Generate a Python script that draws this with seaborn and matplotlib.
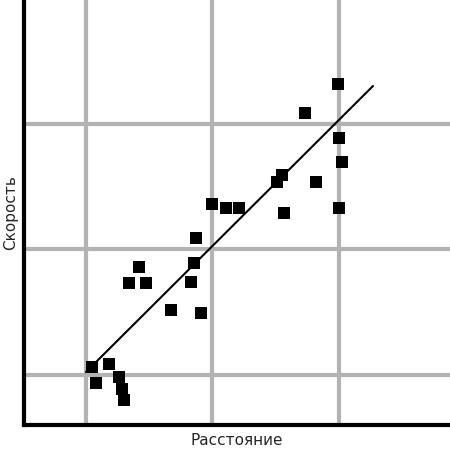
import matplotlib
matplotlib.use("Agg")
import matplotlib.pyplot as plt
import seaborn as sns
import pandas as pd

# values (arbitrary units)
dist = [92, 96, 109, 119, 122, 124, 129, 139, 146, 171, 191, 194, 196, 201,
        212, 226, 239, 277, 282, 284, 305, 316, 338, 339, 342, 339]
speed = [58, 42, 61, 48, 36, 25, 142, 158, 142, 115, 143, 162, 187, 112,
         221, 217, 217, 243, 250, 212, 312, 243, 341, 287, 263, 217]
trend_x = [86, 373]
trend_y = [53, 339]
grid_x = [86, 212, 339]
grid_y = [50, 176, 301]

df = pd.DataFrame({"dist": dist, "speed": speed})

sns.set_style("white")
fig = plt.figure(figsize=(4.5, 4.5), dpi=100)
ax = fig.add_axes([24 / 450, 25 / 450, 426 / 450, 425 / 450])

for g in grid_x:
    ax.axvline(g, color="#b3b3b3", lw=3, zorder=0)
for g in grid_y:
    ax.axhline(g, color="#b3b3b3", lw=3, zorder=0)

sns.lineplot(x=trend_x, y=trend_y, color="black", lw=1.5, ax=ax, zorder=2)
sns.scatterplot(data=df, x="dist", y="speed", marker="s", s=80, color="black",
                edgecolor="black", linewidth=0, ax=ax, zorder=3)

ax.set_xlim(24, 450)
ax.set_ylim(0, 425)
ax.set_xticks([])
ax.set_yticks([])
for side in ["top", "right"]:
    ax.spines[side].set_visible(False)
for side in ["left", "bottom"]:
    ax.spines[side].set_linewidth(3)
    ax.spines[side].set_color("black")
ax.set_xlabel("Расстояние", fontsize=11, labelpad=6)
ax.set_ylabel("Скорость", fontsize=11, labelpad=4)

fig.savefig("out.png", dpi=100)
